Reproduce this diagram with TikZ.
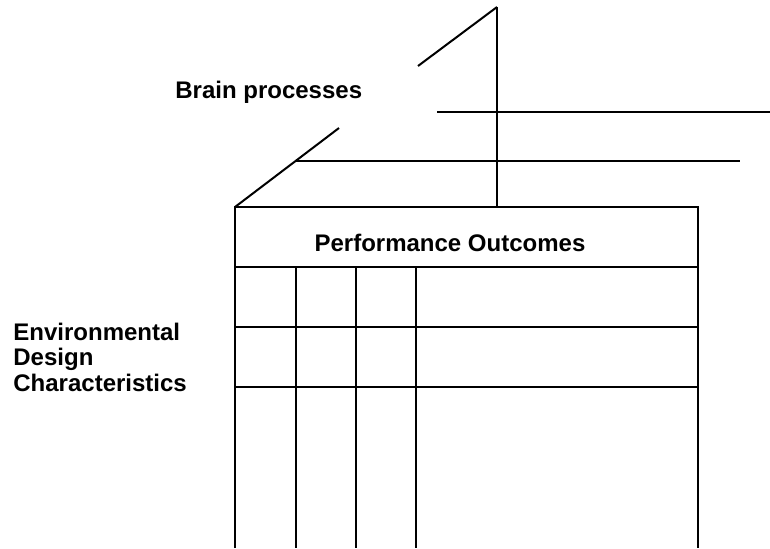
\documentclass[tikz,border=0pt]{standalone}
\usepackage{fontspec}
\setmainfont{Liberation Sans}
\usetikzlibrary{positioning}
\tikzset{
  rule/.style={draw=black,line width=1pt},
  heading/.style={font=\bfseries\fontsize{12}{12.75}\selectfont,
    inner sep=0pt,align=left}
}

\begin{document}
\begin{tikzpicture}[x=0.5pt,y=-0.5pt]
\useasboundingbox (0,0) rectangle (770,548);

% wedge above the table
\coordinate (apex) at (497,7);
\coordinate (corner) at (235,207);
\coordinate (back) at (497,207);
\draw[rule] (apex) -- (418,66);
\draw[rule] (339,128) -- (corner);
\draw[rule] (apex) -- (back);
\draw[rule] (437,112) -- (770,112);
\draw[rule] (296,161) -- (740,161);

% front table
\draw[rule] (235,548) -- (corner) -- (698,207) -- (698,548);
\draw[rule] (235,267) -- (698,267);
\draw[rule] (235,327) -- (698,327);
\draw[rule] (235,387) -- (698,387);
\draw[rule] (296,267) -- (296,548);
\draw[rule] (356,267) -- (356,548);
\draw[rule] (416,267) -- (416,548);

\node[heading,anchor=base west] (brain) at (175,98) {Brain processes};
\node[heading,anchor=base] (outcomes) at (450,251) {Performance Outcomes};
\node[heading,anchor=base west] (design) at (13,391)
  {Environmental\\Design\\Characteristics};

\end{tikzpicture}
\end{document}
